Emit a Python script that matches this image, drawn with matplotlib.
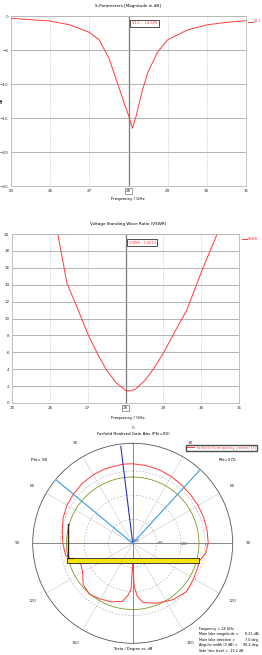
import numpy as np
import matplotlib.pyplot as plt
from matplotlib.patches import Rectangle
from matplotlib.lines import Line2D

# ---- S-Parameters (S1,1 in dB) ----
freq_s11 = [25.0, 25.5, 26.0, 26.5, 27.0, 27.25, 27.5, 27.75, 27.9, 28.0, 28.1, 28.2,
            28.35, 28.5, 28.75, 29.0, 29.5, 30.0, 30.5, 31.0]
s11_db = [-0.34, -0.54, -0.74, -1.3, -2.4, -3.5, -6.2, -10.4, -13.0, -14.6, -16.5, -14.6,
          -11.0, -8.2, -5.25, -3.5, -2.06, -1.3, -0.93, -0.69]
s11_marker = 'S1,1 : -14.699'

# ---- VSWR ----
freq_vswr = [26.2, 26.45, 26.75, 27.0, 27.25, 27.5, 27.75, 28.0, 28.1, 28.25, 28.5,
             28.75, 29.0, 29.3, 29.62, 30.05, 30.45]
vswr = [20.3, 14.2, 11.0, 8.2, 5.9, 3.9, 2.4, 1.5, 1.42, 1.6, 2.6, 4.1, 5.9, 8.4,
        11.0, 16.0, 20.3]
vswr_marker = 'VSWR : 1.4513'

freq_ticks = [25, 26, 27, 28, 29, 30, 31]

# ---- Farfield (theta in deg, negative = Phi=90 side) ----
theta_deg = [-180, -178, -175, -170, -160, -150, -140, -130, -120, -112, -106, -100,
             -90, -80, -70, -60, -50, -40, -30, -20, -7, 0, 10, 20, 30, 40, 50, 60,
             70, 80, 90, 98, 104, 110, 120, 132, 144, 158, 170, 175, 178, 180]
gain_db = [-44, -22, -17, -11, -8.3, -6.5, -4.5, -6.4, -12, -13.6, -8, -3.4,
           -2.0, -0.6, 1.5, 3.0, 4.0, 5.0, 5.6, 6.0, 6.21, 6.0, 5.5, 4.8, 4.0, 3.2, 2.7,
           2.7, 2.7, 2.7, 2.7, 1.0, -2.5, -2.5, -1.4, 0.0, -2.3, -6.4, -10, -15.8, -24, -44]
ref_level = -5.0
main_dir = -7.0
beam_edges = [-50.4, 42.5]
theta_labels = ['0', '30', '60', '90', '120', '150', '180', '150', '120', '90', '60', '30']
info_labels = ['Frequency = 28 GHz', 'Main lobe magnitude =', 'Main lobe direction =',
               'Angular width (3 dB) =', 'Side lobe level = -10.2 dB']
info_values = ['', '6.21 dBi', '7.0 deg.', '90.2 deg.', '']

W, H = 262, 655
RED = '#ff3b3b'
fig = plt.figure(figsize=(W / 100, H / 100), dpi=100)
plt.rcParams['font.size'] = 3


def fx(px):
    return px / W


def fy(py):
    return 1 - py / H


def cart_axes(rect, ylim, yticks):
    ax = fig.add_axes(rect)
    ax.set_xlim(25, 31)
    ax.set_ylim(*ylim)
    ax.set_xticks(freq_ticks, labels=[str(t) for t in freq_ticks])
    ax.set_yticks(yticks)
    ax.yaxis.grid(True, color='#a8a8a8', lw=0.6, ls='-')
    ax.xaxis.grid(True, color='#b0b0b0', lw=0.5, ls=':')
    ax.axvline(28, color='#6a6a6a', lw=0.9, zorder=1)
    ax.tick_params(length=0, labelsize=3, pad=2, colors='#333333')
    for s in ax.spines.values():
        s.set_color('#b8b8b8')
        s.set_linewidth(0.6)
    ax.get_xticklabels()[3].set_bbox(dict(facecolor='white', edgecolor='#555555', lw=0.4, pad=0.6))
    return ax


def side_legend(label, x0, ypx):
    fig.add_artist(Line2D([fx(x0), fx(x0 + 5)], [fy(ypx), fy(ypx)], color=RED, lw=0.7))
    fig.text(fx(x0 + 6), fy(ypx), label, color=RED, fontsize=2.4, ha='left', va='center')


# S-parameter chart
ax1 = cart_axes([fx(11), fy(186), fx(235), 170 / H], (-25, 0), [-25, -20, -15, -10, -5, 0])
ax1.plot(freq_s11, s11_db, color=RED, lw=0.7)
ax1.text(28.08, -0.8, s11_marker, color=RED, fontsize=2.6, va='top', ha='left',
         bbox=dict(facecolor='white', edgecolor='#333333', lw=0.6, pad=1.2))
side_legend('S1,1', 248, 21.5)
fig.text(fx(128), fy(5.5), 'S-Parameters [Magnitude in dB]', ha='center', va='center', fontsize=3)
fig.text(fx(2), fy(100), 'dB', ha='center', va='center', rotation=90, fontsize=3)
fig.text(fx(128), fy(199), 'Frequency / GHz', ha='center', va='center', fontsize=3)

# VSWR chart
ax2 = cart_axes([fx(12), fy(403), fx(227), 169 / H], (0, 20), list(range(0, 21, 2)))
ax2.plot(freq_vswr, vswr, color=RED, lw=0.7)
ax2.text(28.08, 19.2, vswr_marker, color=RED, fontsize=2.6, va='top', ha='left',
         bbox=dict(facecolor='white', edgecolor='#333333', lw=0.6, pad=1.2))
side_legend('VSWR', 242, 238.5)
fig.text(fx(128), fy(224), 'Voltage Standing Wave Ratio (VSWR)', ha='center', va='center', fontsize=3)
fig.text(fx(128), fy(418), 'Frequency / GHz', ha='center', va='center', fontsize=3)

# Farfield polar chart
rmin, rmax = -60, 23
axp = fig.add_axes([fx(32.7), fy(643.3), fx(200), 200 / H], projection='polar')
axp.set_theta_zero_location('N')
axp.set_theta_direction(-1)
axp.set_rlim(rmin, rmax)
axp.set_thetagrids(np.arange(0, 360, 30), labels=theta_labels)
axp.set_rgrids([-60, -40, -20, 0], labels=['-60', '-40', '-20', '0'], angle=93)
axp.xaxis.grid(True, color='#c8c8c8', lw=0.4, ls='-')
axp.yaxis.grid(True, color='#a0a0a0', lw=0.4, ls=(0, (3, 3)))
axp.tick_params(labelsize=3, pad=0.5, colors='#333333')
axp.spines['polar'].set_color('#555555')
axp.spines['polar'].set_linewidth(0.6)
for a in (0, 90):
    axp.plot(np.deg2rad([a, a]), [rmin, rmax], color='#7a7a7a', lw=0.6)
    axp.plot(np.deg2rad([a + 180, a + 180]), [rmin, rmax], color='#7a7a7a', lw=0.6)

th_ref = np.deg2rad(np.arange(0, 361, 2))
axp.plot(th_ref, np.full(th_ref.shape, ref_level), color='#7a9a2a', lw=0.6)
axp.plot(np.deg2rad(theta_deg), gain_db, color=RED, lw=0.7)
axp.plot(np.deg2rad([main_dir, main_dir]), [rmin, rmax - 2], color='#3030c0', lw=0.8)
for b in beam_edges:
    axp.plot(np.deg2rad([b, b]), [rmin, rmax - 1], color='#3a9ae8', lw=0.8)

# yellow marker bar
axp.add_patch(Rectangle((0.17, 0.403), 0.663, 0.0235, transform=axp.transAxes,
                        facecolor='#f5e400', edgecolor='#222222', lw=0.6, zorder=5))
axp.plot([0.175, 0.175], [0.4265, 0.5965], transform=axp.transAxes, color='#3a1a10',
         lw=1.0, zorder=6)
axp.plot([0.175, 0.205], [0.4265, 0.4265], transform=axp.transAxes, color='#3a1a10',
         lw=0.8, zorder=6)

fig.legend(handles=[Line2D([], [], color=RED, lw=0.7)],
           labels=['farfield (f=frequency_centre) [1]'], loc='upper right',
           bbox_to_anchor=(fx(257), fy(444.5)), fontsize=2.6, labelcolor=RED,
           frameon=True, fancybox=False, edgecolor='#222222', borderpad=0.3,
           handlelength=2.0, borderaxespad=0)
fig.text(fx(133), fy(434), 'Farfield Realized Gain Abs (Phi=90)', ha='center', va='center', fontsize=3)
fig.text(fx(39), fy(460), 'Phi= 90', ha='center', va='center', fontsize=3)
fig.text(fx(227), fy(460), 'Phi=270', ha='center', va='center', fontsize=3)
fig.text(fx(133), fy(649), 'Theta / Degree vs. dB', ha='center', va='center', fontsize=2.6)
for i, (lab, val) in enumerate(zip(info_labels, info_values)):
    yy = fy(629 + 5.4 * i)
    fig.text(fx(199), yy, lab, ha='left', va='center', fontsize=2.4)
    if val:
        fig.text(fx(259), yy, val, ha='right', va='center', fontsize=2.4)

fig.savefig('out.png', dpi=100)
